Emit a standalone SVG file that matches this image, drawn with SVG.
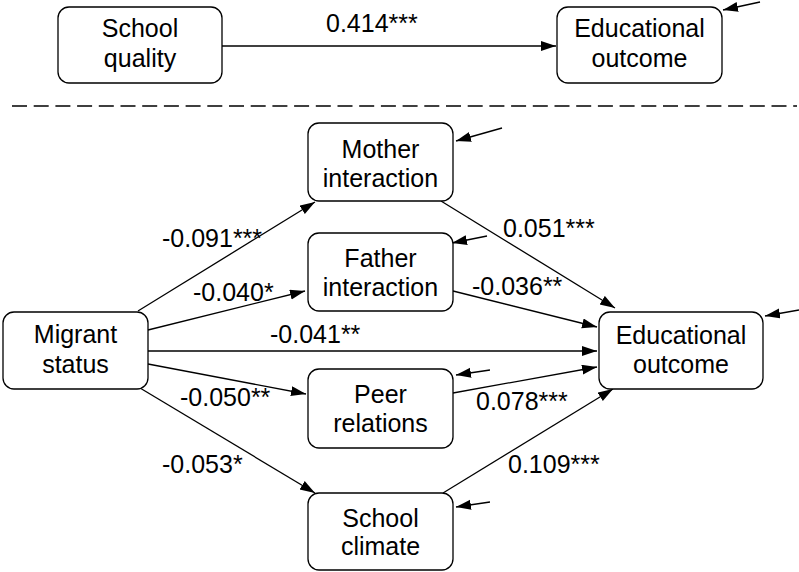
<svg xmlns="http://www.w3.org/2000/svg" width="799" height="572" viewBox="0 0 799 572">
<style>
.box{fill:#fff;stroke:#000;stroke-width:1.3}
.t{font-family:"Liberation Sans",Arial,sans-serif;font-size:25px;fill:#000}
.c{text-anchor:middle}
.e{stroke:#000;stroke-width:1.3;fill:none;marker-end:url(#ah)}
</style>
<defs>
<marker id="ah" markerUnits="userSpaceOnUse" markerWidth="16" markerHeight="11" refX="15" refY="5" orient="auto">
<path d="M0,0 L15,5 L0,10 z" fill="#000"/>
</marker>
</defs>
<g id="connectors">
<line class="e" x1="222" y1="46" x2="556" y2="46"/>
<line class="e" x1="760" y1="2" x2="723" y2="10"/>
<line x1="12" y1="106" x2="797" y2="106" stroke="#000" stroke-width="1.3" stroke-dasharray="15 6.7"/>
<line class="e" x1="138" y1="311" x2="315" y2="202"/>
<line class="e" x1="148" y1="330" x2="305" y2="291"/>
<line class="e" x1="148" y1="351" x2="597" y2="351"/>
<line class="e" x1="148" y1="364" x2="306" y2="394"/>
<line class="e" x1="140" y1="388" x2="315" y2="493"/>
<line class="e" x1="441" y1="201" x2="615" y2="308"/>
<line class="e" x1="453" y1="291" x2="597" y2="327"/>
<line class="e" x1="453" y1="393" x2="597" y2="367"/>
<line class="e" x1="443" y1="493" x2="613" y2="389"/>
<line class="e" x1="502" y1="128" x2="456" y2="141"/>
<line class="e" x1="487" y1="236" x2="452" y2="243"/>
<line class="e" x1="490" y1="370" x2="456" y2="375"/>
<line class="e" x1="490" y1="502" x2="456" y2="507"/>
<line class="e" x1="799" y1="310" x2="765" y2="316"/>
</g>
<g id="labels">
<text class="t" x="326" y="32">0.414***</text>
<text class="t" x="162" y="247">-0.091***</text>
<text class="t" x="193" y="301">-0.040*</text>
<text class="t" x="270" y="343">-0.041**</text>
<text class="t" x="180" y="406">-0.050**</text>
<text class="t" x="162" y="473">-0.053*</text>
<text class="t" x="503" y="237">0.051***</text>
<text class="t" x="472" y="295">-0.036**</text>
<text class="t" x="476" y="410">0.078***</text>
<text class="t" x="508" y="473">0.109***</text>
</g>
<g id="school-quality">
<rect class="box" x="58" y="7" width="164" height="76" rx="11"/>
<text class="t c" x="140" y="37">School</text>
<text class="t c" x="140" y="67">quality</text>
</g>
<g id="edu-top">
<rect class="box" x="557" y="7" width="165" height="76" rx="11"/>
<text class="t c" x="639.5" y="37">Educational</text>
<text class="t c" x="639.5" y="67">outcome</text>
</g>
<g id="mother">
<rect class="box" x="308" y="123" width="145" height="78" rx="11"/>
<text class="t c" x="380.5" y="158">Mother</text>
<text class="t c" x="380.5" y="187">interaction</text>
</g>
<g id="father">
<rect class="box" x="308" y="233" width="145" height="78" rx="11"/>
<text class="t c" x="380.5" y="267">Father</text>
<text class="t c" x="380.5" y="296">interaction</text>
</g>
<g id="migrant">
<rect class="box" x="3" y="312" width="145" height="77" rx="11"/>
<text class="t c" x="75.5" y="343">Migrant</text>
<text class="t c" x="75.5" y="373">status</text>
</g>
<g id="edu-bottom">
<rect class="box" x="599" y="312" width="164" height="77" rx="11"/>
<text class="t c" x="681" y="344">Educational</text>
<text class="t c" x="681" y="373">outcome</text>
</g>
<g id="peer">
<rect class="box" x="308" y="369" width="145" height="79" rx="11"/>
<text class="t c" x="380.5" y="403">Peer</text>
<text class="t c" x="380.5" y="432">relations</text>
</g>
<g id="climate">
<rect class="box" x="308" y="493" width="145" height="77" rx="11"/>
<text class="t c" x="380.5" y="527">School</text>
<text class="t c" x="380.5" y="555">climate</text>
</g>
</svg>
